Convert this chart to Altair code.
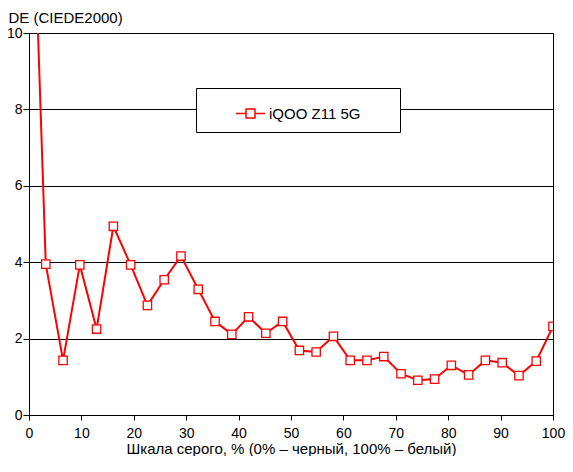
import altair as alt
import pandas as pd

series_name = "iQOO Z11 5G"
gray_pct = [0, 3.2, 6.5, 9.7, 12.9, 16.1, 19.4, 22.6, 25.8, 29.0, 32.3, 35.5, 38.7,
            41.9, 45.2, 48.4, 51.6, 54.8, 58.1, 61.3, 64.5, 67.7, 71.0, 74.2, 77.4,
            80.6, 83.9, 87.1, 90.3, 93.5, 96.8, 100]
delta_e = [17.0, 3.95, 1.43, 3.93, 2.25, 4.94, 3.93, 2.87, 3.54, 4.16, 3.29, 2.45,
           2.11, 2.57, 2.14, 2.45, 1.69, 1.65, 2.06, 1.43, 1.43, 1.53, 1.08, 0.91,
           0.94, 1.30, 1.05, 1.43, 1.37, 1.03, 1.41, 2.32]
x_ticks = [0, 10, 20, 30, 40, 50, 60, 70, 80, 90, 100]
y_ticks = [0, 2, 4, 6, 8, 10]

df = pd.DataFrame({"x": gray_pct, "y": delta_e, "s": [series_name] * len(gray_pct)})

FONT = "Liberation Sans"
RED = "#ff0000"

xenc = alt.X("x:Q", scale=alt.Scale(domain=[0, 100], nice=False, zero=False),
             axis=alt.Axis(values=x_ticks, grid=False, title="Шкала серого, % (0% – черный, 100% – белый)",
                           tickSize=5, labelPadding=6, labelFlush=False,
                           titleY=26, titleBaseline="top", titleFontSize=15))
yenc = alt.Y("y:Q", scale=alt.Scale(domain=[0, 10], nice=False),
             axis=alt.Axis(values=y_ticks, grid=True, title="DE (CIEDE2000)",
                           tickSize=6, labelPadding=1, labelFlush=False,
                           titleAngle=0, titleAlign="left", titleBaseline="alphabetic",
                           titleX=-21, titleY=-10.5, titleFontSize=15))
color = alt.Color("s:N", scale=alt.Scale(domain=[series_name], range=[RED]),
                  legend=alt.Legend(title=" ", titleOrient="right", titlePadding=30,
                                    orient="none", legendX=167, legendY=55,
                                    padding=10, strokeColor="black", fillColor="white",
                                    symbolType="M-1,0H-0.31M0.31,0H1M-0.31,-0.31H0.31V0.31H-0.31Z",
                                    symbolSize=841, symbolStrokeWidth=1.5,
                                    symbolFillColor="white", symbolStrokeColor=RED,
                                    symbolOffset=29, labelOffset=3,
                                    labelFont=FONT, labelFontSize=15, labelColor="black"))

line = alt.Chart(df).mark_line(strokeWidth=2, clip=True).encode(x=xenc, y=yenc, color=color)
pts = alt.Chart(df).mark_point(shape="square", size=70, strokeWidth=1.3, fill="white",
                               fillOpacity=1, opacity=1, clip=True).encode(
    x="x:Q", y="y:Q", color=alt.Color("s:N", legend=None))

chart = alt.layer(line, pts).properties(
    width=524, height=382,
    background="white",
    autosize=alt.AutoSizeParams(type="none"),
    padding={"left": 21, "top": 25, "right": 12, "bottom": 41},
).configure_view(stroke="black", strokeWidth=1).configure_axis(
    domainColor="black", tickColor="black", gridColor="black", gridOpacity=1, gridWidth=1,
    labelFont=FONT, labelFontSize=14, labelColor="black",
    titleFont=FONT, titleColor="black", titleFontWeight="normal",
)

chart.save("out.html", embed_options={"renderer": "svg", "actions": False})
